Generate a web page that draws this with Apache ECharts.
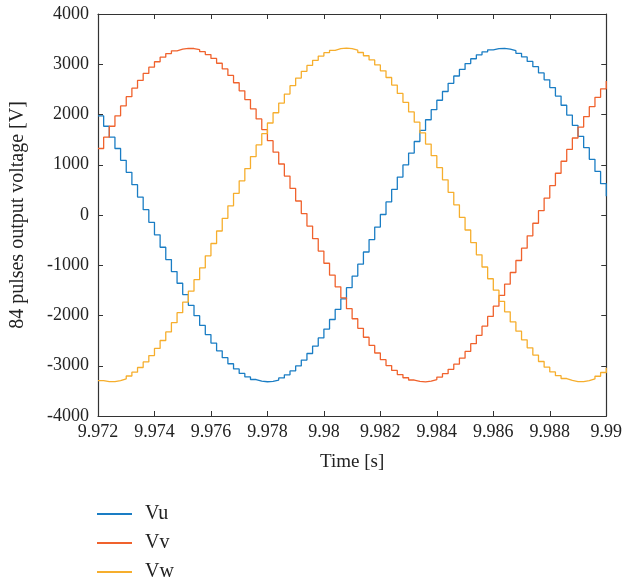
<!DOCTYPE html>
<html>
<head>
<meta charset="utf-8">
<script src="https://cdn.jsdelivr.net/npm/echarts@6/dist/echarts.min.js"></script>
<style>
  html, body { margin: 0; padding: 0; background: #fff; }
  #main { width: 625px; height: 584px; }
</style>
</head>
<body>
<div id="main"></div>
<script>
// time samples [s]
var time = [
  9.972, 9.9722, 9.9724, 9.9726, 9.9728, 9.973, 9.9732, 9.9734, 9.9736, 9.9738,
  9.974, 9.9742, 9.9744, 9.9746, 9.9748, 9.975, 9.9752, 9.9754, 9.9756, 9.9758,
  9.976, 9.9762, 9.9764, 9.9766, 9.9768, 9.977, 9.9772, 9.9774, 9.9776, 9.9778,
  9.978, 9.9782, 9.9784, 9.9786, 9.9788, 9.979, 9.9792, 9.9794, 9.9796, 9.9798,
  9.98, 9.9802, 9.9804, 9.9806, 9.9808, 9.981, 9.9812, 9.9814, 9.9816, 9.9818,
  9.982, 9.9822, 9.9824, 9.9826, 9.9828, 9.983, 9.9832, 9.9834, 9.9836, 9.9838,
  9.984, 9.9842, 9.9844, 9.9846, 9.9848, 9.985, 9.9852, 9.9854, 9.9856, 9.9858,
  9.986, 9.9862, 9.9864, 9.9866, 9.9868, 9.987, 9.9872, 9.9874, 9.9876, 9.9878,
  9.988, 9.9882, 9.9884, 9.9886, 9.9888, 9.989, 9.9892, 9.9894, 9.9896, 9.9898,
  9.99
];

// phase voltages [V]
var vu = [
  1973, 1766, 1548, 1323, 1089, 849, 604, 356, 106, -145,
  -394, -642, -887, -1126, -1358, -1583, -1798, -2004, -2198, -2380,
  -2549, -2702, -2839, -2960, -3064, -3152, -3222, -3274, -3306, -3318,
  -3311, -3286, -3243, -3181, -3102, -3004, -2888, -2756, -2608, -2446,
  -2270, -2080, -1880, -1668, -1446, -1215, -979, -736, -490, -241,
  10, 260, 509, 755, 997, 1233, 1463, 1684, 1896, 2096,
  2284, 2458, 2620, 2766, 2897, 3013, 3109, 3187, 3247, 3288,
  3312, 3317, 3303, 3271, 3217, 3146, 3057, 2951, 2828, 2691,
  2536, 2367, 2184, 1988, 1782, 1566, 1340, 1107, 868, 623,
  375
];
var vv = [
  1323, 1548, 1766, 1973, 2170, 2355, 2524, 2679, 2818, 2942,
  3050, 3140, 3213, 3268, 3301, 3316, 3313, 3291, 3251, 3193,
  3116, 3020, 2906, 2777, 2632, 2472, 2298, 2111, 1912, 1700,
  1480, 1251, 1015, 774, 528, 279, 29, -221, -471, -717,
  -960, -1198, -1429, -1651, -1864, -2065, -2255, -2433, -2596, -2746,
  -2880, -2996, -3094, -3175, -3239, -3284, -3310, -3319, -3307, -3276,
  -3226, -3158, -3072, -2969, -2849, -2714, -2561, -2394, -2212, -2019,
  -1815, -1600, -1376, -1144, -905, -661, -414, -164, 87, 337,
  586, 831, 1070, 1305, 1532, 1749, 1958, 2155, 2341, 2511,
  2667
];
var vw = [
  -3296, -3314, -3314, -3296, -3259, -3204, -3128, -3035, -2924, -2797,
  -2656, -2498, -2326, -2142, -1943, -1733, -1515, -1287, -1053, -813,
  -567, -318, -67, 183, 432, 680, 924, 1163, 1394, 1618,
  1831, 2035, 2228, 2407, 2574, 2725, 2859, 2977, 3079, 3163,
  3230, 3278, 3309, 3319, 3310, 3280, 3234, 3169, 3086, 2987,
  2870, 2736, 2585, 2420, 2242, 2051, 1847, 1635, 1411, 1180,
  942, 700, 452, 203, -48, -299, -548, -793, -1035, -1269,
  -1497, -1717, -1927, -2127, -2312, -2485, -2643, -2787, -2915, -3028,
  -3122, -3198, -3254, -3293, -3314, -3315, -3298, -3262, -3209, -3134,
  -3042
];

var names = ['Vu', 'Vv', 'Vw'];
var colors = ['#1a7dc4', '#f0622d', '#f6ae2d'];

function pairs(ys) {
  return time.map(function (t, i) { return [t, ys[i]]; });
}

var myChart = echarts.init(document.getElementById('main'));

var axisLine = { show: true, onZero: false, lineStyle: { color: '#333', width: 1.2 } };
var tick = { show: true, inside: true, length: 5, lineStyle: { color: '#333', width: 1 } };
var font = '"Liberation Serif", "DejaVu Serif", serif';

var option = {
  animation: false,
  color: colors,
  grid: { left: 97, right: 16, top: 14, bottom: 168 },
  legend: {
    orient: 'vertical',
    left: 97,
    top: 504,
    padding: 0,
    icon: 'rect',
    itemWidth: 35,
    itemHeight: 2,
    itemGap: 9,
    textStyle: { fontFamily: font, fontSize: 20, lineHeight: 20, color: '#222', padding: [0, 0, 0, 8] },
    data: names
  },
  xAxis: [{
    type: 'value',
    min: 9.972,
    max: 9.99,
    interval: 0.002,
    name: 'Time [s]',
    nameLocation: 'middle',
    nameGap: 37,
    nameTextStyle: { fontFamily: font, fontSize: 19, color: '#222' },
    axisLine: axisLine,
    axisTick: tick,
    splitLine: { show: false },
    axisLabel: {
      fontFamily: font, fontSize: 18, color: '#222', margin: 7,
      formatter: function (v) { return String(+v.toFixed(3)); }
    }
  }, {
    type: 'value',
    position: 'top',
    min: 9.972,
    max: 9.99,
    interval: 0.002,
    axisLine: axisLine,
    axisTick: tick,
    splitLine: { show: false },
    axisLabel: { show: false }
  }],
  yAxis: [{
    type: 'value',
    min: -4000,
    max: 4000,
    interval: 1000,
    name: '84 pulses output voltage [V]',
    nameLocation: 'middle',
    nameGap: 70,
    nameTextStyle: { fontFamily: font, fontSize: 20, color: '#222' },
    axisLine: axisLine,
    axisTick: tick,
    splitLine: { show: false },
    axisLabel: {
      fontFamily: font, fontSize: 18, color: '#222', margin: 9,
      formatter: function (v) { return String(v); }
    }
  }, {
    type: 'value',
    position: 'right',
    min: -4000,
    max: 4000,
    interval: 1000,
    axisLine: axisLine,
    axisTick: tick,
    splitLine: { show: false },
    axisLabel: { show: false }
  }],
  series: [
    { name: names[0], type: 'line', step: 'end', symbol: 'none', data: pairs(vu), lineStyle: { width: 1.3 } },
    { name: names[1], type: 'line', step: 'end', symbol: 'none', data: pairs(vv), lineStyle: { width: 1.3 } },
    { name: names[2], type: 'line', step: 'end', symbol: 'none', data: pairs(vw), lineStyle: { width: 1.3 } }
  ]
};

myChart.setOption(option);
</script>
</body>
</html>
